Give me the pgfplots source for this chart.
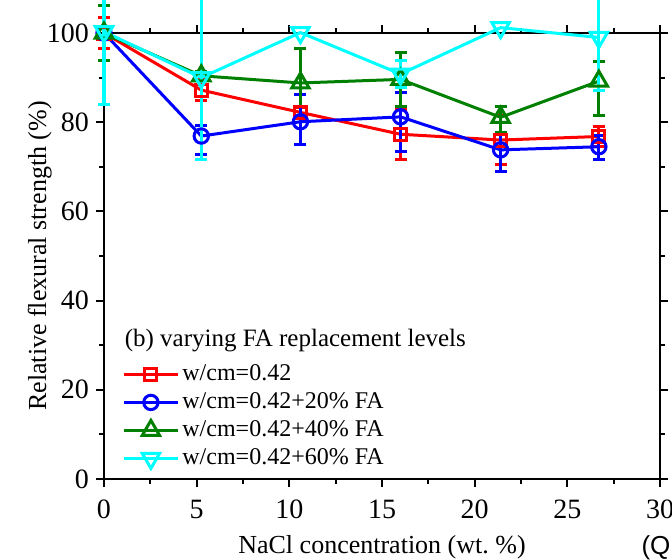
\documentclass[border=0pt]{standalone}
\usepackage{fontspec}
\setmainfont{Liberation Serif}
\newfontfamily\arialfont{Liberation Sans}
\usepackage{pgfplots}
\pgfplotsset{compat=1.18}
\definecolor{cgreen}{RGB}{0,128,0}
\definecolor{ccyan}{RGB}{0,255,255}
\begin{document}
\begin{tikzpicture}
\begin{axis}[
  at={(0,0)}, anchor=south west,
  scale only axis, width=278pt, height=223pt,
  xmin=0, xmax=30, ymin=0, ymax=100,
  xtick={0,5,...,30}, ytick={0,20,...,100},
  minor x tick num=1, minor y tick num=1,
  tick align=outside,
  axis line style={line width=1pt},
  every tick/.style={black, line width=1pt},
  major tick length=4pt, minor tick length=2.5pt,
  clip=false,
  /pgf/number format/assume math mode=true,
  tick label style={font=\rmfamily\fontsize{14}{16}\selectfont},
  xticklabel style={yshift=-3pt},
  label style={font=\rmfamily\fontsize{13}{15}\selectfont},
  xlabel={NaCl concentration (wt.~\%)},
  ylabel={Relative flexural strength (\%)},
  xlabel style={at={(axis description cs:0.5,-0.166)}, anchor=base},
  ylabel style={at={(axis description cs:-0.104,0.5)}, anchor=base},
  legend image code/.code={\draw[mark repeat=2,mark phase=2] plot coordinates {(0pt,0pt)(13.5pt,0pt)(27pt,0pt)};},
  legend cell align=left,
  legend style={draw=none, fill=none, at={(0.0324,0.2668)}, anchor=north west,
    inner sep=0pt, row sep=0pt, column sep=0.5pt,
    font=\rmfamily\fontsize{12}{14}\selectfont,
    nodes={inner sep=1pt, text height=9pt, text depth=3pt}},
  every axis plot/.append style={line width=1.5pt},
  error bars/y dir=both, error bars/y explicit,
  error bars/error mark=-,
  error bars/error bar style={line width=1.5pt, solid},
  error bars/error mark options={rotate=90, line width=1.5pt, mark size=3pt},
]
\addplot[color=red, mark=square, mark size=3pt, mark options={solid}] coordinates {
  (0,100) +- (0,3.4)
  (5.25,87.2) +- (0,2.3)
  (10.6,82.2) +- (0,1.2)
  (16,77.3) +- (0,5.6)
  (21.4,76.0) +- (0,5.5)
  (26.7,76.8) +- (0,2.3)
};
\addlegendentry{w/cm=0.42}
\addplot[color=blue, mark=o, mark size=3.6pt, mark options={solid}] coordinates {
  (0,100) +- (0,1)
  (5.25,76.9) += (0,2.3) -= (0,4.1)
  (10.6,80.1) += (0,6.2) -= (0,5.2)
  (16,81.2) += (0,5.5) -= (0,7.8)
  (21.4,73.8) += (0,3.8) -= (0,4.9)
  (26.7,74.5) += (0,2.6) -= (0,2.8)
};
\addlegendentry{w/cm=0.42+20\% FA}
\addplot[color=cgreen, mark=triangle, mark size=5pt, mark options={solid}] coordinates {
  (0,100) +- (0,6.1)
  (5.25,90.4) +- (0,1)
  (10.6,88.8) += (0,7.8) -= (0,5.3)
  (16,89.6) +- (0,6.1)
  (21.4,81.1) += (0,2.5) -= (0,3.3)
  (26.7,89.2) += (0,4.5) -= (0,7.8)
};
\addlegendentry{w/cm=0.42+40\% FA}
\addplot[draw=none, mark=none, forget plot,
  error bars/error bar style={line width=1.5pt, solid, draw=ccyan},
  error bars/error mark options={rotate=90, line width=1.5pt, mark size=3pt, draw=ccyan}] coordinates {
  (0,100.3) +- (0,16.3)
  (5.25,90.0) +- (0,18.3)
  (16,90.8) +- (0,3.1)
  (26.7,99.0) +- (0,11.9)
};
\addplot[color=ccyan, mark=triangle, mark size=5pt, mark options={solid, rotate=180}, error bars/y dir=none] coordinates {
  (0,100.3)
  (5.25,90.0)
  (10.6,100.1)
  (16,90.8)
  (21.4,101.2)
  (26.7,99.0)
};
\addlegendentry{w/cm=0.42+60\% FA}
\node[anchor=base west, inner sep=0pt, font=\rmfamily\fontsize{12.5}{15}\selectfont] at (axis cs:1.1,29.7) {(b) varying FA replacement levels};
\node[anchor=base west, inner sep=0pt, font=\arialfont\fontsize{13}{15}\selectfont] at (axis cs:28.98,-17) {(Q};
\end{axis}
\pgfresetboundingbox
\path[use as bounding box] (-52pt,-40pt) rectangle (284pt,239.5pt);
\end{tikzpicture}
\end{document}
